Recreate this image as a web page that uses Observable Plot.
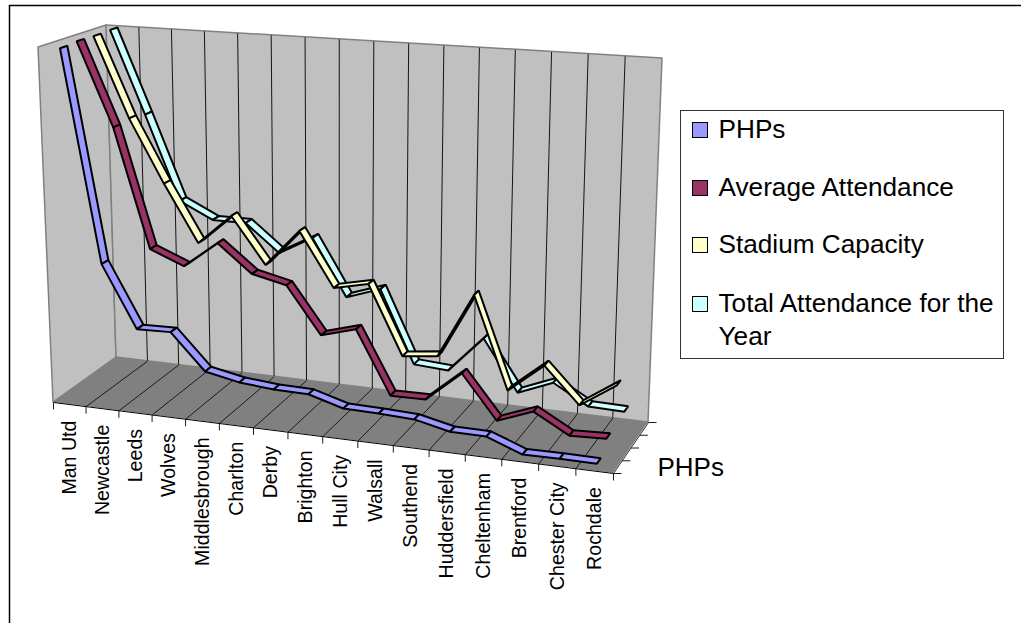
<!DOCTYPE html>
<html>
<head>
<meta charset="utf-8">
<script src="https://cdn.jsdelivr.net/npm/d3@7"></script>
<script src="https://cdn.jsdelivr.net/npm/@observablehq/plot@0.6"></script>
<style>
  html, body { margin: 0; padding: 0; background: #fff; }
  #chart { position: relative; width: 1021px; height: 623px; overflow: hidden; font-family: "Liberation Sans", Arial, sans-serif; }
  #legend { position: absolute; left: 680px; top: 110px; width: 322px; height: 247px; border: 1px solid #333; background: #fff; box-sizing: content-box; color: #000; font-size: 26.2px; line-height: 33px; }
  #legend div { position: absolute; left: 37.5px; width: 290px; }
  #legend i { position: absolute; left: -27px; top: 9px; width: 14px; height: 14px; border: 1.5px solid #000; }
</style>
</head>
<body>
<div id="chart"></div>
<script>
// Clubs along the category axis
const clubs = ["Man Utd", "Newcastle", "Leeds", "Wolves", "Middlesbrough", "Charlton", "Derby", "Brighton",
  "Hull City", "Walsall", "Southend", "Huddersfield", "Cheltenham", "Brentford", "Chester City", "Rochdale"];

// Each measure as a percentage of the value axis
const phps = [99.5, 39.5, 22.3, 22.5, 12.7, 10.8, 10.0, 9.8, 7.1, 6.9, 6.5, 4.4, 4.3, 0.8, 0.9, 0.85];
const averageAttendance = [99.9, 75.9, 42.1, 38.2, 45.6, 37.9, 35.7, 22.9, 25.6, 8.6, 8.7, 16.8, 5.3, 8.9, 3.7, 4.1];
const stadiumCapacity = [99.8, 76.5, 58.4, 42.2, 50.8, 37.8, 48.3, 33.2, 35.3, 16.3, 17.4, 35.2, 10.2, 18.1, 8.5, 15.0];
const totalAttendance = [100, 75.6, 51.0, 46.3, 46.3, 38.5, 43.8, 27.8, 31.1, 10.9, 10.3, 20.3, 6.4, 10.3, 4.9, 4.7];

const seriesNames = ["PHPs", "Average Attendance", "Stadium Capacity", "Total Attendance for the Year"];
const seriesValues = [phps, averageAttendance, stadiumCapacity, totalAttendance];
const seriesColors = ["#9999ff", "#993366", "#ffffcc", "#ccffff"];
const depthLabel = "PHPs";

// Perspective box: floor corners and the upward edge at each corner
const floor = {fl: [53, 402], fr: [613, 473], bl: [116, 357], br: [648, 422]};
const rise = {fl: [-15, -355], fr: [19, -393], bl: [-10, -332], br: [14, -364]};
const foreshorten = 1.08;
const ribbonHalfDepth = 0.22;

const n = clubs.length;
const along = (c) => { const t = c / n; return t / (t + (1 - t) * foreshorten); };
const mix = (a, b, t) => [a[0] + (b[0] - a[0]) * t, a[1] + (b[1] - a[1]) * t];
const corners = (o, c, d) => { const f = along(c); return mix(mix(o.fl, o.fr, f), mix(o.bl, o.br, f), d); };

// Project category position, depth (0 front, 1 back) and percentage to the drawing plane
function project(c, d, pct) {
  const b = corners(floor, c, d), r = corners(rise, c, d);
  return [b[0] + r[0] * pct / 100, b[1] + r[1] * pct / 100];
}

// A four-sided face as two rows for an area mark
function face(a, b, c, e) {
  return [{x1: a[0], y1: a[1], x2: b[0], y2: b[1]}, {x1: e[0], y1: e[1], x2: c[0], y2: c[1]}];
}
const faceMark = (rows, options) => Plot.area(rows, {x1: "x1", y1: "y1", x2: "x2", y2: "y2", ...options});

function ribbon(values, j) {
  const d0 = (j + 0.5) / seriesNames.length - ribbonHalfDepth / seriesNames.length;
  const d1 = (j + 0.5) / seriesNames.length + ribbonHalfDepth / seriesNames.length;
  const rows = [];
  values.slice(0, -1).forEach((v, i) => {
    const w = values[i + 1];
    face(project(i + 0.5, d0, v), project(i + 0.5, d1, v), project(i + 1.5, d1, w), project(i + 1.5, d0, w))
      .forEach((row) => rows.push({...row, seg: i}));
  });
  return faceMark(rows, {z: "seg", fill: seriesColors[j], stroke: "#000", strokeWidth: 2, strokeLinejoin: "miter"});
}

const link = (rows, options) => Plot.link(rows, {
  x1: (r) => r[0][0], y1: (r) => r[0][1], x2: (r) => r[1][0], y2: (r) => r[1][1], ...options});

const boundaries = d3.range(0, n + 1);
const wallLines = boundaries.slice(1, -1).map((c) => [project(c, 1, 0), project(c, 1, 100)]);
const floorLines = boundaries.slice(1, -1).map((c) => [project(c, 0, 0), project(c, 1, 0)]);
const categoryTicks = boundaries.map((c) => { const p = project(c, 0, 0); return [p, [p[0], p[1] + 7]]; });
const depthTicks = d3.range(0, seriesNames.length + 1).map((j) => {
  const p = project(n, j / seriesNames.length, 0);
  return [p, [p[0] + 8, p[1]]];
});
const labels = clubs.map((name, i) => {
  const p = project(i + 0.5, 0, 0);
  return {name, x: p[0], y: p[1]};
});

const plot = Plot.plot({
  width: 1021,
  height: 623,
  margin: 0,
  style: {background: "#fff", fontFamily: "'Liberation Sans', Arial, sans-serif", color: "#000"},
  x: {domain: [0, 1021], range: [0, 1021], axis: null},
  y: {domain: [0, 623], range: [0, 623], axis: null},
  marks: [
    // chart frame, open on the right and at the bottom
    Plot.ruleX([9], {y1: 5, y2: 623, stroke: "#000", strokeWidth: 1.5}),
    Plot.ruleY([5], {x1: 9, x2: 1021, stroke: "#000", strokeWidth: 1.5}),
    // side wall, back wall, floor
    faceMark(face(project(0, 0, 0), project(0, 1, 0), project(0, 1, 100), project(0, 0, 100)),
      {fill: "#c0c0c0", stroke: "#808080", strokeWidth: 1.5}),
    faceMark(face(project(0, 1, 0), project(n, 1, 0), project(n, 1, 100), project(0, 1, 100)),
      {fill: "#c0c0c0", stroke: "#808080", strokeWidth: 1.5}),
    link(wallLines, {stroke: "#000", strokeWidth: 0.9}),
    faceMark(face(project(0, 0, 0), project(n, 0, 0), project(n, 1, 0), project(0, 1, 0)),
      {fill: "#808080"}),
    link(floorLines, {stroke: "#000", strokeWidth: 0.8}),
    // axes
    link([[project(0, 0, 0), project(n, 0, 0)]], {stroke: "#000", strokeWidth: 1}),
    link([[project(n, 0, 0), project(n, 1, 0)]], {stroke: "#000", strokeWidth: 0.8}),
    link(categoryTicks, {stroke: "#000", strokeWidth: 0.9}),
    link(depthTicks, {stroke: "#000", strokeWidth: 0.9}),
    Plot.text(labels, {x: "x", y: "y", text: "name", rotate: -90, textAnchor: "end", dy: 16, fontSize: 19.6, fill: "#000"}),
    Plot.text([depthLabel], {x: [657], y: [467], text: (d) => d, textAnchor: "start", fontSize: 26, fill: "#000"}),
    // ribbons painted back to front
    ...seriesValues.map((values, j) => ribbon(values, j)).reverse()
  ]
});

const host = document.getElementById("chart");
host.appendChild(plot);

const legend = document.createElement("div");
legend.id = "legend";
const legendTops = [2, 60, 117, 176];
seriesNames.forEach((name, j) => {
  const row = document.createElement("div");
  row.style.top = legendTops[j] + "px";
  const swatch = document.createElement("i");
  swatch.style.background = seriesColors[j];
  row.appendChild(swatch);
  row.appendChild(document.createTextNode(name));
  legend.appendChild(row);
});
host.appendChild(legend);
</script>
</body>
</html>
